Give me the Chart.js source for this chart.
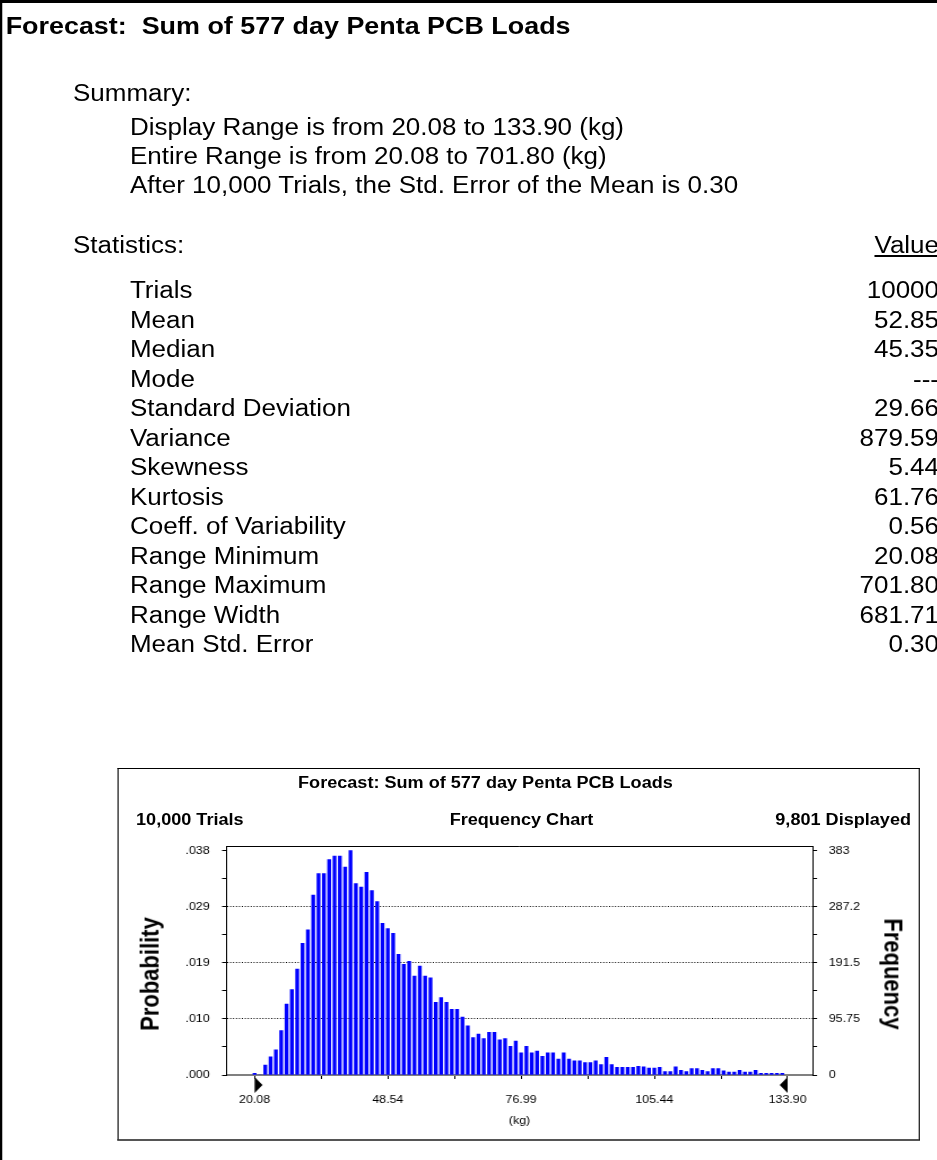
<!DOCTYPE html>
<html>
<head>
<meta charset="utf-8">
<script src="https://cdn.jsdelivr.net/npm/chart.js@4.4.1/dist/chart.umd.min.js"></script>
<style>
html, body { margin:0; padding:0; background:#fff; overflow:hidden; }
body { width:937px; height:1160px; position:relative; }
#page { position:absolute; left:0; top:0; width:900px; height:1200px; transform:scaleX(1.13); transform-origin:0 0;
        font-family:"Liberation Sans", Arial, sans-serif; color:#000; }
#frame { position:absolute; left:0; top:0; width:900px; height:1300px; border-left:2.7px solid #000; border-top:3px solid #000; }
.t { position:absolute; white-space:pre; font-size:23px; line-height:30px; }
.h { position:absolute; white-space:pre; font-size:16px; line-height:20px; font-weight:bold; }
.r { text-align:right; left:0; }
#box { position:absolute; left:104.4px; top:768px; width:709.8px; height:373px; box-sizing:border-box;
       border:1px solid #000; border-bottom:2px solid #555; }
#chart { position:absolute; left:105.4px; top:768px; }
.rot { position:absolute; white-space:pre; font-weight:bold; }
</style>
</head>
<body>
<div id="page">
  <div id="frame"></div>
  <div class="t" style="left:5px;top:11px;font-weight:bold;font-size:23.8px;">Forecast:  Sum of 577 day Penta PCB Loads</div>
  <div class="t" style="left:64.6px;top:78px;">Summary:</div>
  <div id="summary"></div>
  <div class="t" style="left:64.6px;top:230px;">Statistics:</div>
  <div class="t r" style="top:230px;width:831px;"><u>Value</u></div>
  <div id="stats"></div>

  <div id="box"></div>
  <canvas id="chart" width="708" height="370"></canvas>
  <div class="h" style="left:429.6px;top:773px;transform:translateX(-50%);">Forecast: Sum of 577 day Penta PCB Loads</div>
  <div class="h" style="left:120.4px;top:810px;">10,000 Trials</div>
  <div class="h" style="left:461.5px;top:810px;transform:translateX(-50%);">Frequency Chart</div>
  <div class="h r" style="top:810px;width:806.2px;">9,801 Displayed</div>
  <div class="rot" style="left:133.2px;top:973.5px;font-size:22px;transform:translate(-50%,-50%) rotate(-90deg);">Probability</div>
  <div class="rot" style="left:790.3px;top:974px;font-size:22px;transform:translate(-50%,-50%) rotate(90deg);">Frequency</div>
</div>
<script>
var summaryLines = ['Display Range is from 20.08 to 133.90 (kg)',
                    'Entire Range is from 20.08 to 701.80 (kg)',
                    'After 10,000 Trials, the Std. Error of the Mean is 0.30'];
var statNames = ['Trials','Mean','Median','Mode','Standard Deviation','Variance','Skewness',
                 'Kurtosis','Coeff. of Variability','Range Minimum','Range Maximum','Range Width','Mean Std. Error'];
var statValues = ['10000','52.85','45.35','---','29.66','879.59','5.44',
                  '61.76','0.56','20.08','701.80','681.71','0.30'];

var displayMin = 20.08;
var displayMax = 133.90;
var freqValues = [3,0,17,31,43,76,121,146,181,225,248,307,344,344,368,374,374,355,383,327,
                  321,346,315,296,259,250,242,206,189,194,169,186,169,166,124,132,124,112,112,99,
                  84,64,70,62,73,73,60,62,49,58,38,49,38,41,32,38,38,27,38,27,
                  24,24,21,21,24,18,30,18,13,13,13,13,15,14,12,12,13,6,6,14,
                  8,6,11,11,8,6,11,11,7,5,5,8,5,5,8,3,3,3,3,3];
var xTickLabels = ['20.08','48.54','76.99','105.44','133.90'];
var freqTickValues = [0, 95.75, 191.5, 287.25, 383];
var freqTickLabels = ['0','95.75','191.5','287.2','383'];
var probTickLabels = ['.000','.010','.019','.029','.038'];

function add_line(parent, cls, text, left, top, width) {
    var d = document.createElement('div');
    d.className = cls;
    d.textContent = text;
    d.style.top = top + 'px';
    if (width) d.style.width = width + 'px'; else d.style.left = left + 'px';
    document.getElementById(parent).appendChild(d);
}

summaryLines.forEach(function (s, i) { add_line('summary', 't', s, 115, 112 + i * 29); });
statNames.forEach(function (s, i) {
    add_line('stats', 't', s, 115, 275 + i * 29.5);
    add_line('stats', 't r', statValues[i], 0, 275 + i * 29.5, 831);
});

var binWidth = (displayMax - displayMin) / freqValues.length;
var barData = freqValues.map(function (v, i) { return {x: displayMin + i * binWidth, y: v}; });
var xTicks = [];
for (var k = 0; k <= 8; k++) xTicks.push(displayMin + k * (displayMax - displayMin) / 8);
var yTicks = [];
for (var k = 0; k <= 8; k++) yTicks.push(k * 383 / 8);

function y_ticks(scale) { scale.ticks = yTicks.map(function (v) { return {value: v}; }); }
function tick_index(v) {
    for (var i = 0; i < freqTickValues.length; i++) if (Math.abs(freqTickValues[i] - v) < 0.01) return i;
    return -1;
}

var markers = {
    id: 'markers',
    afterDraw: function (chart) {
        var ctx = chart.ctx, a = chart.chartArea, xs = chart.scales.x;
        ctx.save();
        ctx.strokeStyle = '#000';
        ctx.lineWidth = 1;
        ctx.beginPath();
        ctx.moveTo(a.left, a.top + 0.5);
        ctx.lineTo(a.right, a.top + 0.5);
        ctx.stroke();
        var b = a.bottom;
        var p1 = xs.getPixelForValue(displayMin), p2 = xs.getPixelForValue(displayMax);
        ctx.fillStyle = '#000';
        ctx.beginPath();
        ctx.moveTo(p1, b + 2); ctx.lineTo(p1, b + 18); ctx.lineTo(p1 + 7, b + 10); ctx.closePath();
        ctx.fill();
        ctx.beginPath();
        ctx.moveTo(p2, b + 2); ctx.lineTo(p2, b + 18); ctx.lineTo(p2 - 7, b + 10); ctx.closePath();
        ctx.fill();
        ctx.restore();
    }
};

var ctx = document.getElementById('chart').getContext('2d');
var myChart = new Chart(ctx, {
    type: 'bar',
    data: {
        datasets: [{
            label: 'Frequency',
            data: barData,
            backgroundColor: 'rgb(0,0,255)',
            borderWidth: 0,
            barThickness: 2.7,
            yAxisID: 'y'
        }]
    },
    options: {
        responsive: false,
        animation: false,
        devicePixelRatio: 1,
        layout: { padding: { top: 78, left: 0, right: 0, bottom: 0 } },
        plugins: { legend: { display: false }, title: { display: false }, tooltip: { enabled: false } },
        scales: {
            x: {
                type: 'linear',
                offset: false,
                min: 14.10,
                max: 139.24,
                afterBuildTicks: function (scale) { scale.ticks = xTicks.map(function (v) { return {value: v}; }); },
                afterFit: function (scale) { scale.height = 63; },
                ticks: {
                    autoSkip: false, maxRotation: 0, padding: 14.4, color: '#000',
                    font: { family: 'Liberation Sans', size: 11 },
                    callback: function (v, i) { return i % 2 === 0 ? xTickLabels[i / 2] : ''; }
                },
                grid: { drawOnChartArea: false, offset: false, tickLength: 4, tickColor: '#000' },
                border: { color: '#808080', width: 2 },
                title: { display: true, text: '(kg)', color: '#000', font: { family: 'Liberation Sans', size: 11 },
                         padding: { top: 0, bottom: 10.4 } }
            },
            y: {
                position: 'left',
                min: 0,
                max: 391,
                afterBuildTicks: y_ticks,
                afterFit: function (scale) { scale.width = 95.5; },
                ticks: {
                    autoSkip: false, padding: 11, color: '#000',
                    font: { family: 'Liberation Sans', size: 11 },
                    callback: function (v) { var i = tick_index(v); return i < 0 ? '' : probTickLabels[i]; }
                },
                grid: {
                    tickLength: 4, tickColor: '#000', lineWidth: 1,
                    color: function (c) {
                        var v = c.tick ? c.tick.value : 0;
                        return (v > 0 && v < 383 && tick_index(v) >= 0) ? '#000' : 'rgba(0,0,0,0)';
                    }
                },
                border: { color: '#000', width: 1, dash: [1, 1.6] }
            },
            y2: {
                position: 'right',
                min: 0,
                max: 391,
                afterBuildTicks: y_ticks,
                afterFit: function (scale) { scale.width = 93.9; },
                ticks: {
                    autoSkip: false, padding: 10.4, color: '#000',
                    font: { family: 'Liberation Sans', size: 11 },
                    callback: function (v) { var i = tick_index(v); return i < 0 ? '' : freqTickLabels[i]; }
                },
                grid: { drawOnChartArea: false, tickLength: 4, tickColor: '#000' },
                border: { color: '#000', width: 1 }
            }
        }
    },
    plugins: [markers]
});
</script>
</body>
</html>
